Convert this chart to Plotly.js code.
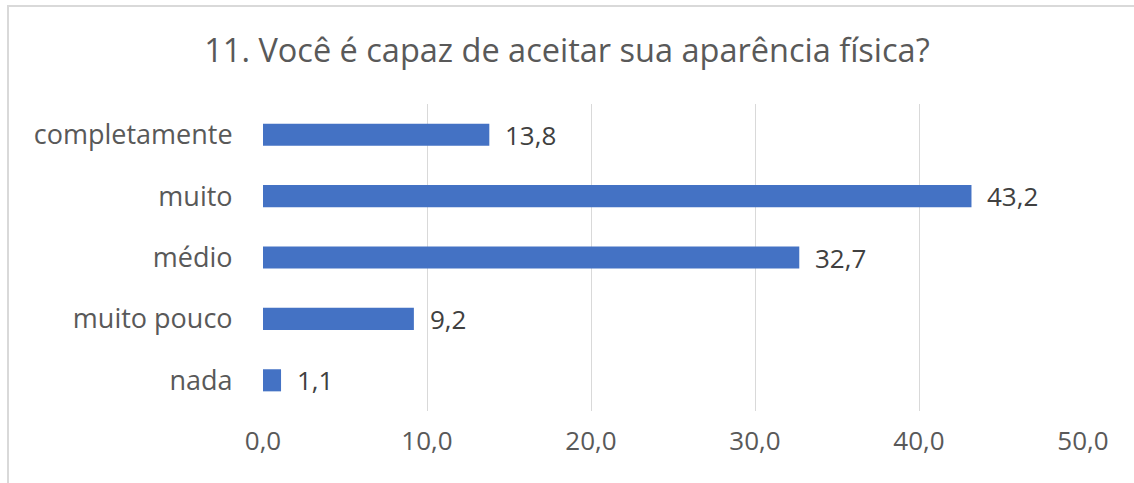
<!DOCTYPE html>
<html><head><meta charset="utf-8">
<script src="https://cdn.plot.ly/plotly-3.0.1.min.js"></script>
<style>
html,body{margin:0;padding:0;background:#fff;overflow:hidden;}
#chart{position:absolute;left:0;top:0;width:1134px;height:483px;}
#frame{position:absolute;left:7px;top:5px;width:1200px;height:600px;border-top:2px solid #d9d9d9;border-left:2px solid #d9d9d9;pointer-events:none;}
</style></head>
<body>
<div id="chart"></div>
<div id="frame"></div>
<script>
const categories = ["nada", "muito pouco", "médio", "muito", "completamente"];
const values = [1.1, 9.2, 32.7, 43.2, 13.8];
const tickValues = [0, 10, 20, 30, 40, 50];
const titleText = "11. Você é capaz de aceitar sua aparência física?";

const fmt = v => v.toFixed(1).replace('.', ',');

const trace = {
  type: 'bar', orientation: 'h',
  x: values, y: categories,
  marker: {color: '#4472C4'},
  width: 0.36,
  hoverinfo: 'none'
};

const annotations = values.map((v, i) => ({
  x: v, y: categories[i], xref: 'x', yref: 'y',
  text: fmt(v), showarrow: false, xanchor: 'left', yanchor: 'middle',
  xshift: 14, font: {family: 'Open Sans, sans-serif', size: 26, color: '#404040'}
}));

const layout = {
  width: 1134, height: 483,
  margin: {l: 263, r: 51, t: 104, b: 72},
  paper_bgcolor: 'rgba(0,0,0,0)', plot_bgcolor: 'rgba(0,0,0,0)',
  separators: ',.',
  title: {text: titleText, x: 0.5, xanchor: 'center', y: 0.895, yanchor: 'middle',
    font: {family: 'Open Sans, sans-serif', size: 32.5, color: '#595959'}},
  xaxis: {range: [0, 50], tickvals: tickValues, tickformat: '.1f',
    showgrid: true, gridcolor: '#d9d9d9', gridwidth: 1, zeroline: false,
    showline: false, ticks: 'outside', ticklen: 7, tickcolor: 'rgba(0,0,0,0)',
    tickfont: {family: 'Open Sans, sans-serif', size: 26, color: '#595959'}, fixedrange: true},
  yaxis: {categoryorder: 'array', categoryarray: categories,
    showgrid: false, zeroline: false, showline: false,
    ticks: 'outside', ticklen: 24, tickcolor: 'rgba(0,0,0,0)',
    tickfont: {family: 'Open Sans, sans-serif', size: 27, color: '#595959'}, fixedrange: true},
  annotations: annotations,
  showlegend: false
};

Plotly.newPlot('chart', [trace], layout, {displayModeBar: false, staticPlot: true});
</script>
</body></html>
